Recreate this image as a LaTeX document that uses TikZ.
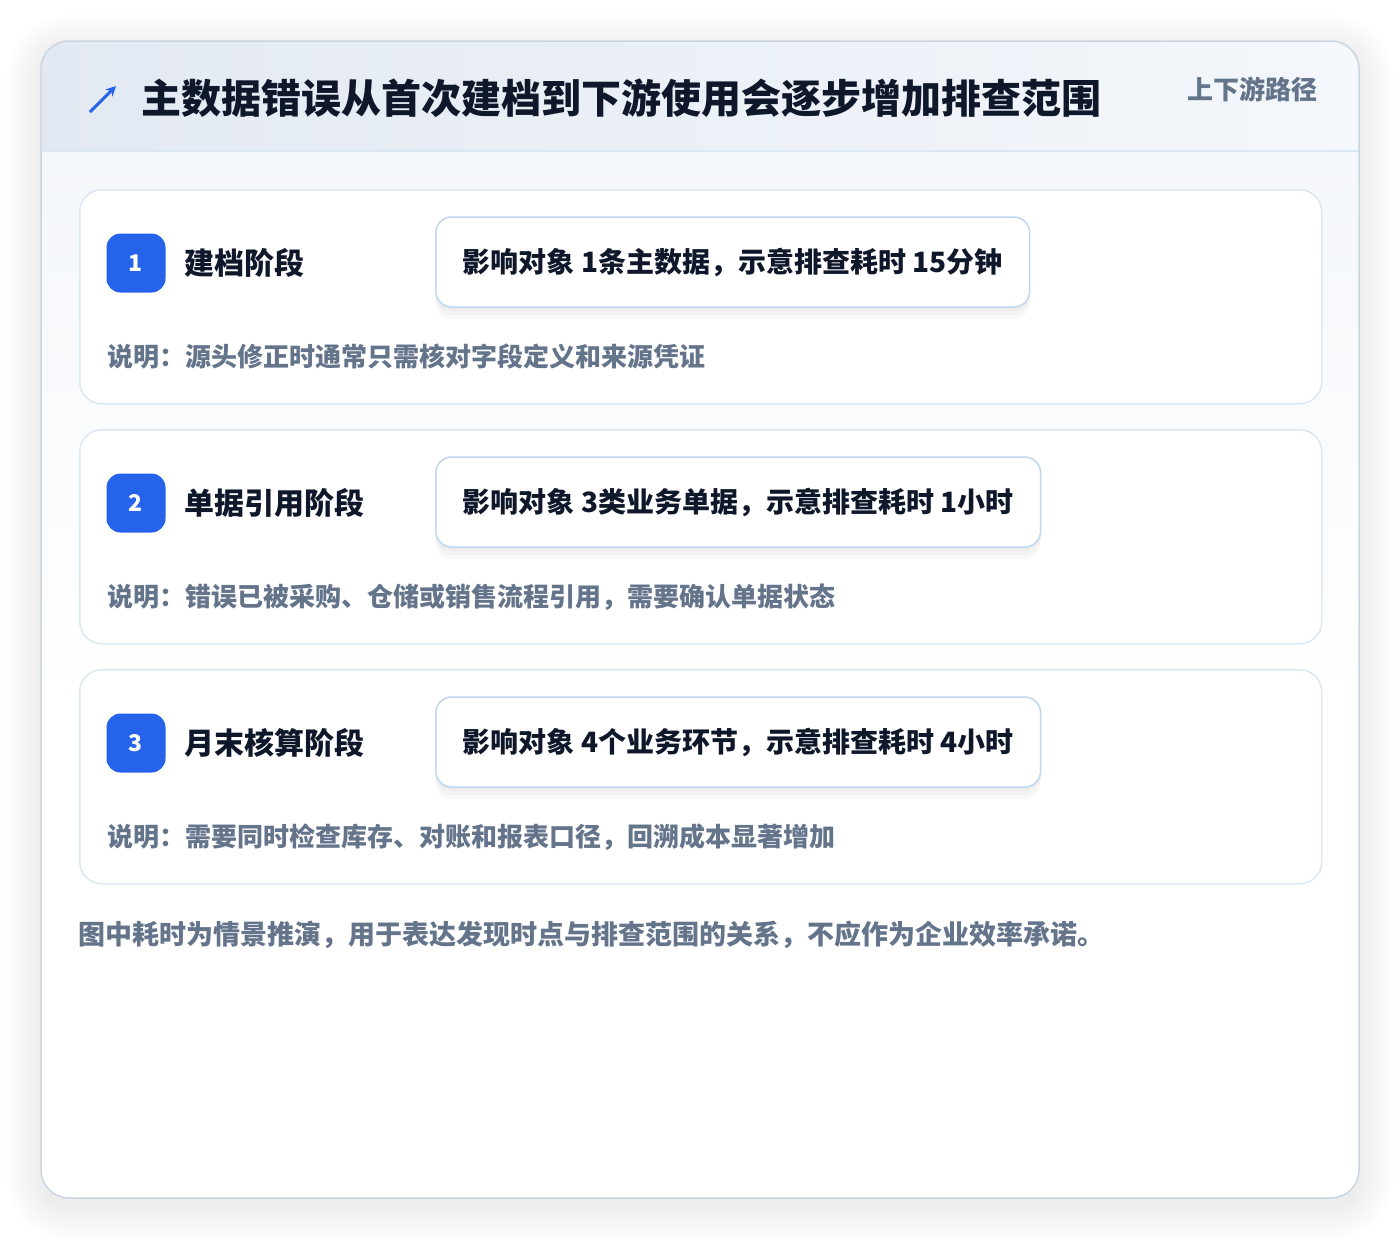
\documentclass[tikz,border=0pt]{standalone}
\usepackage{fontspec}
\setmainfont{Noto Sans CJK SC}
\usetikzlibrary{positioning, arrows.meta, shadows}

\definecolor{ink}{HTML}{0F172A}
\definecolor{slate}{HTML}{64748B}
\definecolor{brand}{HTML}{2563EB}
\definecolor{frame}{HTML}{CBD5E1}
\definecolor{cardline}{HTML}{DCE7F4}
\definecolor{pillline}{HTML}{BFD6F3}
\definecolor{headL}{HTML}{E3E9F2}
\definecolor{headR}{HTML}{F4F7FB}

\tikzset{
    stagecard/.style={draw=cardline, line width=1.5pt, fill=white, rounded corners=22pt,
        minimum width=1242pt, minimum height=214pt, anchor=north west},
    badge/.style={fill=brand, rounded corners=14pt, minimum size=59pt, inner sep=0pt,
        text=white, font=\fontsize{23}{26}\selectfont\bfseries},
    stagename/.style={anchor=west, inner sep=0pt, text=ink, font=\fontsize{30}{36}\selectfont\bfseries},
    softshadow/.style={general shadow={shadow xshift=0pt, shadow yshift=-#1, opacity=0.022, fill=black}},
    impact/.style={anchor=west, draw=pillline, line width=1.5pt, fill=white, rounded corners=16pt,
        minimum height=90pt, inner xsep=27pt, text=ink, font=\fontsize{28}{34}\selectfont\bfseries,
        softshadow=12pt, softshadow=8pt, softshadow=4pt},
    notetext/.style={anchor=west, inner sep=0pt, text=slate, font=\fontsize{26}{32}\selectfont\bfseries},
}

\begin{document}
\begin{tikzpicture}[x=1pt, y=-1pt]
    \useasboundingbox[fill=white] (0,0) rectangle (1400,1240);
    % soft shadow round the main card
    \foreach \s in {2,6,...,34}
        \fill[black, opacity=0.008, rounded corners=28pt+\s] (41-\s,41-\s+8) rectangle (1359+\s,1198+\s+8);
    \fill[white, rounded corners=28pt] (41,41) rectangle (1359,1198);
    % header band and body tint
    \begin{scope}
        \clip[rounded corners=28pt] (41,41) rectangle (1359,1198);
        \shade[left color=headL, right color=headR] (41,41) rectangle (1359,151);
        \shade[top color=headR, bottom color=white] (41,151) rectangle (1359,700);
    \end{scope}
    \draw[cardline, line width=1.5pt] (41,151) -- (1359,151);
    \draw[frame, line width=1.5pt, rounded corners=28pt] (41,41) rectangle (1359,1198);

    % title
    \coordinate (tail) at (90,112);
    \coordinate (tip) at (116,86);
    \draw[brand, line width=3pt, -{Stealth[length=10pt, width=10pt]}] (tail) -- (tip);
    \node[anchor=west, inner sep=0pt, text=ink, font=\fontsize{40}{48}\selectfont\bfseries] (title) at (141,98)
        {主数据错误从首次建档到下游使用会逐步增加排查范围};
    \node[anchor=east, inner sep=0pt, text=slate, font=\fontsize{26}{32}\selectfont\bfseries] (path) at (1318,89)
        {上下游路径};

    % stages
    \foreach \i/\cy/\name/\impacttext/\notestr in {
        1/189/建档阶段/{影响对象 1条主数据，示意排查耗时 15分钟}/{说明：源头修正时通常只需核对字段定义和来源凭证},
        2/429/单据引用阶段/{影响对象 3类业务单据，示意排查耗时 1小时}/{说明：错误已被采购、仓储或销售流程引用，需要确认单据状态},
        3/669/月末核算阶段/{影响对象 4个业务环节，示意排查耗时 4小时}/{说明：需要同时检查库存、对账和报表口径，回溯成本显著增加}}
    {
        \node[stagecard] (card\i) at (79,\cy) {};
        \node[badge] (badge\i) at (136,\cy+74) {\i};
        \node[stagename, right=19pt of badge\i] (stage\i) {\name};
        \node[impact] (impact\i) at (435,\cy+73) {\impacttext};
        \node[notetext] (note\i) at (107,\cy+168) {\notestr};
    }

    % footnote
    \node[anchor=west, inner sep=0pt, text=slate, font=\fontsize{27}{32}\selectfont\bfseries] (footnote) at (78,935)
        {图中耗时为情景推演，用于表达发现时点与排查范围的关系，不应作为企业效率承诺。};
\end{tikzpicture}
\end{document}
